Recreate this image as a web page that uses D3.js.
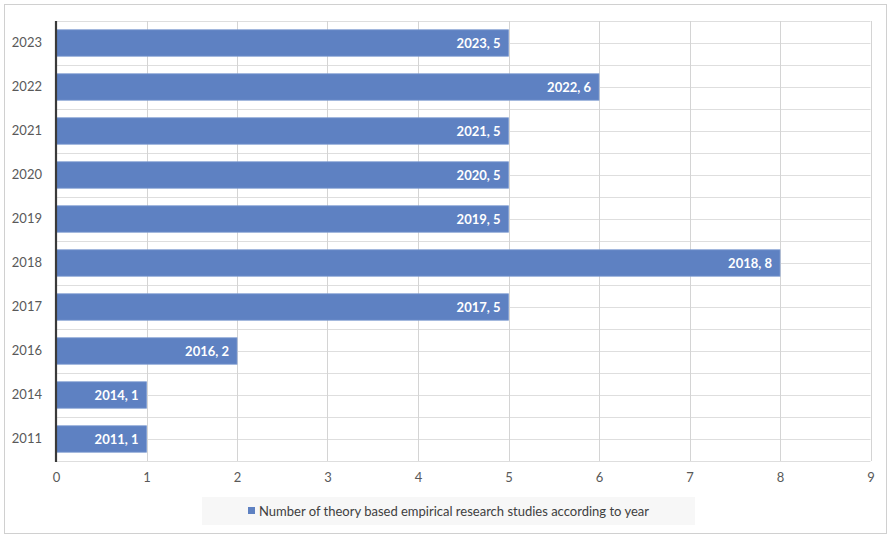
<!DOCTYPE html>
<html>
<head>
<meta charset="utf-8">
<script src="https://cdn.jsdelivr.net/npm/d3@7"></script>
<style>
  html, body { margin: 0; padding: 0; background: #fff; }
  svg { display: block; }
  text { font-family: Lato, "Open Sans", "Liberation Sans", sans-serif; }
</style>
</head>
<body>
<svg id="chart" width="890" height="535"></svg>
<script>
// Studies per year (top to bottom as drawn)
const years = ["2023", "2022", "2021", "2020", "2019", "2018", "2017", "2016", "2014", "2011"];
const counts = [5, 6, 5, 5, 5, 8, 5, 2, 1, 1];
const xTicks = [0, 1, 2, 3, 4, 5, 6, 7, 8, 9];
const seriesName = "Number of theory based empirical research studies according to year";

const svg = d3.select("#chart");
const W = 890, H = 535;
const plot = { left: 56, right: 870.5, top: 21, bottom: 461 };

// outer frame
svg.append("rect")
  .attr("x", 4.5).attr("y", 4.5)
  .attr("width", 882).attr("height", 529)
  .attr("fill", "#fff").attr("stroke", "#d0d0d0").attr("stroke-width", 1);

const x = d3.scaleLinear().domain([0, 9]).range([plot.left, plot.right]);
const y = d3.scaleBand().domain(years).range([plot.top, plot.bottom])
  .paddingInner(0.4).paddingOuter(0.2);

// horizontal grid: band boundaries and band centres
const hLines = [];
years.forEach(yr => {
  const s = y(yr) - y.step() * y.paddingInner() / 2;
  hLines.push(s, s + y.step() / 2);
});
hLines.push(plot.bottom);
svg.append("g").selectAll("line").data(hLines).join("line")
  .attr("x1", plot.left).attr("x2", plot.right)
  .attr("y1", d => Math.round(d) + 0.5).attr("y2", d => Math.round(d) + 0.5)
  .attr("stroke", "#dedede").attr("stroke-width", 1);

// vertical grid
svg.append("g").selectAll("line").data(xTicks.slice(1)).join("line")
  .attr("x1", d => Math.round(x(d)) + 0.5).attr("x2", d => Math.round(x(d)) + 0.5)
  .attr("y1", plot.top).attr("y2", plot.bottom)
  .attr("stroke", "#d4d4d4").attr("stroke-width", 1);

// bars
svg.append("g").selectAll("rect").data(years).join("rect")
  .attr("x", x(0))
  .attr("y", d => y(d))
  .attr("width", (d, i) => x(counts[i]) - x(0))
  .attr("height", y.bandwidth())
  .attr("fill", "#5e81c2")
  .attr("stroke", "#7d9bd1").attr("stroke-width", 0.8);

// value labels inside bar ends
svg.append("g").selectAll("text").data(years).join("text")
  .attr("x", (d, i) => x(counts[i]) - 8)
  .attr("y", d => y(d) + y.bandwidth() / 2)
  .attr("dy", "0.35em")
  .attr("text-anchor", "end")
  .attr("fill", "#fff")
  .attr("font-weight", "bold")
  .attr("font-size", 13)
  .text((d, i) => `${d}, ${counts[i]}`);

// y axis line and labels
svg.append("line")
  .attr("x1", plot.left).attr("x2", plot.left)
  .attr("y1", plot.top).attr("y2", plot.bottom + 1)
  .attr("stroke", "#3a3a3a").attr("stroke-width", 2.2);

const yAxis = svg.append("g")
  .attr("transform", `translate(${plot.left},0)`)
  .call(d3.axisLeft(y).tickSize(0).tickPadding(14));
yAxis.select(".domain").remove();
yAxis.selectAll("text").attr("font-size", 13).attr("fill", "#595959")
  .attr("font-family", "Lato, 'Open Sans', sans-serif");

// x axis labels
const xAxis = svg.append("g")
  .attr("transform", `translate(0,${plot.bottom})`)
  .call(d3.axisBottom(x).tickValues(xTicks).tickFormat(d3.format("d")).tickSize(0).tickPadding(12));
xAxis.select(".domain").remove();
xAxis.selectAll("text").attr("font-size", 13).attr("fill", "#595959")
  .attr("font-family", "Lato, 'Open Sans', sans-serif");

// legend
const lg = svg.append("g");
lg.append("rect")
  .attr("x", 202).attr("y", 497).attr("width", 493).attr("height", 28)
  .attr("fill", "#f7f7f7");
const legendText = lg.append("text")
  .attr("x", 259).attr("y", 511).attr("dy", "0.35em")
  .attr("font-size", 13).attr("fill", "#404040")
  .text(seriesName);
lg.append("rect")
  .attr("x", 248).attr("y", 507).attr("width", 7).attr("height", 7)
  .attr("fill", "#5e81c2");
</script>
</body>
</html>
